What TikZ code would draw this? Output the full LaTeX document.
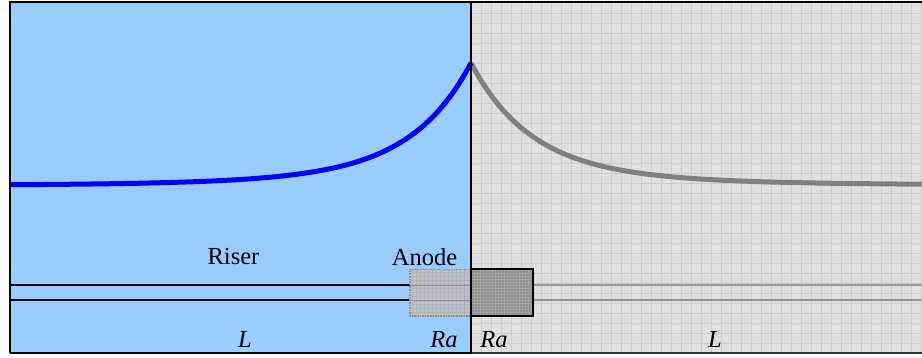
\documentclass[tikz,border=0pt]{standalone}
\usepackage{fontspec}
\setmainfont{Liberation Serif}
\definecolor{riserblue}{HTML}{99CCFF}
\definecolor{moldgrey}{HTML}{E4E4E4}
\definecolor{gridgrey}{HTML}{CCCCCC}
\definecolor{finegrey}{HTML}{DEDEDE}
\definecolor{curvegrey}{HTML}{808080}
\definecolor{anodefill}{HTML}{BCC2CC}
\definecolor{anodeedge}{HTML}{8F8F8F}
\definecolor{anodefine}{HTML}{B0B4BA}
\definecolor{anodedark}{HTML}{8F8F8F}
\definecolor{anodegrid}{HTML}{A2A2A2}
\definecolor{linegrey}{HTML}{9A9A9A}
\tikzset{
  outline/.style={black,line width=2pt},
  lbl/.style={font=\fontsize{24.5}{26}\selectfont,inner sep=0pt,text=black},
  lblit/.style={font=\fontsize{24.5}{26}\selectfont\itshape,inner sep=0pt,text=black},
  curve/.style={line width=5pt,line join=round},
}
\begin{document}
\begin{tikzpicture}[x=1pt,y=-1pt]
\useasboundingbox (0,0) rectangle (922,358);
\fill[white] (0,0) rectangle (922,358);
% domains
\fill[riserblue] (10,2.5) rectangle (471,353);
\fill[moldgrey] (471,2.5) rectangle (922,353);
\draw[finegrey,line width=0.4pt,step=2pt,yscale=-1] (471,-353) grid (922,-2.5);
\begin{scope}
\clip (471,2.5) rectangle (922,353);
\foreach \x in {481,491,...,921} \draw[gridgrey,line width=0.9pt] (\x,2.5) -- (\x,353);
\foreach \y in {13,23,...,353} \draw[gridgrey,line width=0.9pt] (471,\y) -- (922,\y);
\end{scope}
% riser tube
\coordinate (tl) at (10,285.5);
\coordinate (tr) at (410,285.5);
\coordinate (bl) at (10,300.5);
\coordinate (br) at (410,300.5);
\coordinate (gl1) at (533,285.5);
\coordinate (gr1) at (922,285.5);
\coordinate (gl2) at (533,300.5);
\coordinate (gr2) at (922,300.5);
\draw[outline] (tl) -- (tr);
\draw[outline] (bl) -- (br);
\draw[linegrey,line width=2pt] (gl1) -- (gr1);
\draw[linegrey,line width=2pt] (gl2) -- (gr2);
% anode left
\fill[anodefill] (410,269.5) rectangle (471,316);
\draw[anodefine,line width=0.3pt,step=4pt,yscale=-1] (410,-316) grid (471,-269.5);
\draw[anodeedge,line width=1.6pt] (410,285.5) -- (471,285.5) (410,300.5) -- (471,300.5);
\draw[anodeedge,line width=1.6pt,densely dotted] (471,269.5) -- (410,269.5) -- (410,316) -- (471,316);
% anode right
\fill[anodedark] (471,269.5) rectangle (533,316);
\draw[anodegrid,line width=0.5pt,step=3pt,yscale=-1] (471,-316) grid (533,-269.5);
\draw[black,line width=2pt] (471,269.5) rectangle (533,316);
% curves
\draw[curvegrey,curve] plot[domain=471:922,samples=150] (\x,{185-97*exp(-(\x-471)/57)-25*exp(-(\x-471)/130)});
\draw[blue,curve] plot[domain=10:471,samples=150] (\x,{185.5-97*exp(-(471-\x)/57)-25.5*exp(-(471-\x)/130)});
% frame
\draw[outline] (10,353) -- (10,2.5) -- (922,2.5);
\draw[outline] (10,353) -- (471,353);
\draw[black!80,line width=1.4pt] (471,353) -- (922,353);
\draw[black,line width=2pt] (471,2.5) -- (471,353);
% labels
\node[lbl] (riser) at (233.5,257) {Riser};
\node[lbl] (anode) at (424.5,257) {Anode};
\node[lblit] (l1) at (245,339.5) {L};
\node[lblit] (ra1) at (444,339.5) {Ra};
\node[lblit] (ra2) at (494,339.5) {Ra};
\node[lblit] (l2) at (715,339.5) {L};
\end{tikzpicture}
\end{document}
